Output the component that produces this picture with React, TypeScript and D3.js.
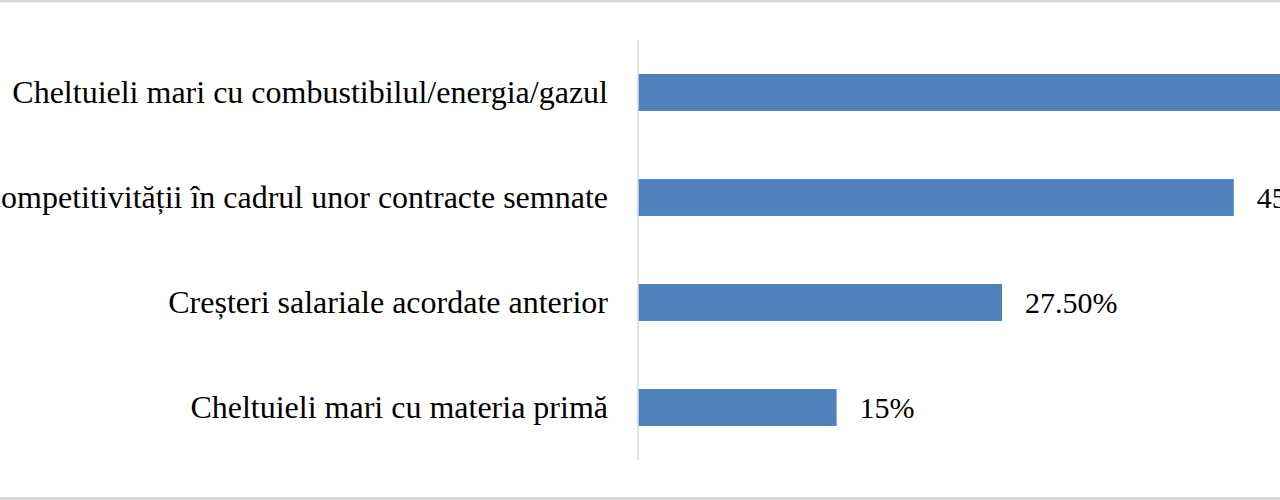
import React from "react";
import * as d3 from "d3";

const categories = [
  "Cheltuieli mari cu combustibilul/energia/gazul",
  "Menținerea competitivității în cadrul unor contracte semnate",
  "Creșteri salariale acordate anterior",
  "Cheltuieli mari cu materia primă",
];
const values = [57.5, 45, 27.5, 15];
const valueLabels = ["57.50%", "45%", "27.50%", "15%"];

const W = 1280;
const H = 500;
const axisX = 638;
const top = 40;
const bottom = 460;

export default function App() {
  const x = d3.scaleLinear().domain([0, 100]).range([axisX, axisX + 1324]);
  const y = d3
    .scaleBand<string>()
    .domain(categories)
    .range([top, bottom])
    .paddingInner(0.648)
    .paddingOuter(0.324);
  const font = "'Liberation Serif', 'Times New Roman', serif";
  return (
    <svg
      width={W}
      height={H}
      style={{ position: "fixed", left: 0, top: 0, background: "#fff" }}
    >
      <rect x={0} y={0} width={W} height={H} fill="#fff" />
      <line x1={0} x2={W} y1={1} y2={1} stroke="#d9d9d9" strokeWidth={2.5} />
      <line x1={0} x2={W} y1={498.5} y2={498.5} stroke="#d9d9d9" strokeWidth={3} />
      {categories.map((c, i) => {
        const yc = (y(c) ?? 0) + y.bandwidth() / 2;
        return (
          <g key={c}>
            <rect
              x={x(0)}
              y={y(c)}
              width={x(values[i]) - x(0)}
              height={y.bandwidth()}
              fill="#4f81bd"
            />
            <text
              x={608}
              y={yc}
              dy="0.33em"
              textAnchor="end"
              fontFamily={font}
              fontSize={32}
              fill="#000"
            >
              {c}
            </text>
            <text
              x={x(values[i]) + 23}
              y={yc}
              dy="0.35em"
              textAnchor="start"
              fontFamily={font}
              fontSize={30}
              fill="#000"
            >
              {valueLabels[i]}
            </text>
          </g>
        );
      })}
      <line
        x1={axisX}
        x2={axisX}
        y1={top}
        y2={bottom}
        stroke="#d9d9d9"
        strokeWidth={1.5}
      />
    </svg>
  );
}
